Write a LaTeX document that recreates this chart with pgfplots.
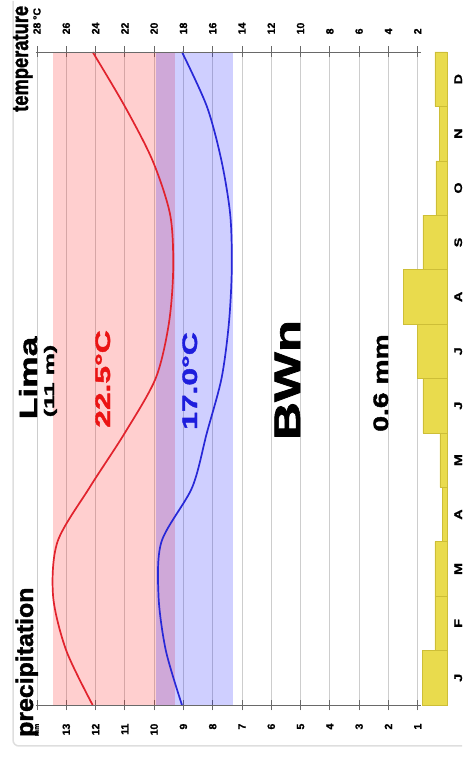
\documentclass[border=0pt]{standalone}
\usepackage{pgfplots}
\pgfplotsset{compat=1.18}
\usepackage{pgfplotstable}
\usepackage{fontspec}
\setmainfont{Liberation Sans}[BoldFont={Liberation Sans Bold}]
\newfontfamily\bfam{Liberation Sans Bold}[FakeBold=1.6]
\newfontfamily\tfam{Liberation Sans Bold}[FakeBold=1.2]
\usepackage{graphicx}

\definecolor{barfill}{RGB}{233,219,77}
\definecolor{baredge}{RGB}{205,190,55}
\definecolor{tmaxc}{RGB}{225,35,45}
\definecolor{tminc}{RGB}{40,40,215}
\definecolor{axgray}{RGB}{105,105,105}
\definecolor{vgrid}{RGB}{205,205,205}
\definecolor{hgrid}{RGB}{160,160,160}
\definecolor{framec}{RGB}{222,222,222}
\definecolor{txtred}{RGB}{235,20,20}
\definecolor{txtblue}{RGB}{30,30,220}

\newcommand\tickfont{\tfam\fontsize{10.5}{12}\selectfont}

% precipitation (mm), interval starts at month position m
\pgfplotstableread{
m p
0 0.85
1 0.41
2 0.41
3 0.17
4 0.24
5 0.82
6 1.02
7 1.50
8 0.82
9 0.38
10 0.27
11 0.41
12 0.41
}\precip

% temperatures (degC) at month positions (0 = Dec, 1 = Jan, ..., 12 = Dec)
\pgfplotstableread{
m tmax tmin
0 24.2 18.1
1 26.0 19.2
2 26.9 19.7
3 26.6 19.5
4 24.4 17.4
5 22.0 16.4
6 19.9 15.4
7 19.0 14.9
8 18.7 14.7
9 18.9 14.8
10 20.1 15.4
11 22.0 16.4
12 24.2 18.1
}\temps

\begin{document}
\begin{tikzpicture}
\useasboundingbox (0,0) rectangle (463bp,758bp);
\draw[framec, line width=1.5bp, rounded corners=6bp] (462bp,12bp) -- (13bp,12bp) -- (13bp,757bp);

% precipitation axis (bottom labels, grid, bars)
\begin{axis}[
  scale only axis, width=410bp, height=653bp,
  at={(37bp,53bp)}, anchor=south west,
  xmin=0, xmax=14, ymin=0, ymax=12, x dir=reverse,
  axis line style={draw=none},
  xtick={1,...,14},
  xticklabels={1,2,3,4,5,6,7,8,9,10,11,12,13,{\fontsize{7}{7}\selectfont mm}},
  xtick pos=left, xticklabel pos=left,
  xticklabel style={rotate=90, anchor=east, inner sep=0pt, font=\tickfont},
  xticklabel shift=13bp,
  ytick=\empty, minor ytick={1,...,11},
  xmajorgrids=true, yminorgrids=true,
  major grid style={vgrid, line width=0.8bp},
  minor grid style={hgrid, line width=0.8bp},
  tick align=center, major tick length=11bp, minor tick length=0pt,
  tick style={axgray, line width=0.8bp},
  clip=false,
]
\addplot[xbar interval, fill=barfill, draw=baredge, line width=0.6bp] table[x=p, y=m] {\precip};
\end{axis}

% temperature axis (top labels, bands, curves)
\begin{axis}[
  scale only axis, width=410bp, height=653bp,
  at={(37bp,53bp)}, anchor=south west,
  xmin=0, xmax=28, ymin=0, ymax=12, x dir=reverse,
  axis line style={draw=none},
  xtick={2,4,...,28},
  xticklabels={2,4,6,8,10,12,14,16,18,20,22,24,26,28 °C},
  xtick pos=right, xticklabel pos=right,
  xticklabel style={rotate=90, anchor=west, inner sep=0pt, font=\tickfont},
  xticklabel shift=12bp,
  ytick=\empty,
  tick align=center, major tick length=11bp,
  tick style={axgray, line width=0.8bp},
  clip=false,
]
\addplot[draw=none, fill=red, fill opacity=0.19] coordinates {(18.6,0) (26.9,0) (26.9,12) (18.6,12)} -- cycle;
\addplot[draw=none, fill=blue, fill opacity=0.19] coordinates {(14.6,0) (19.85,0) (19.85,12) (14.6,12)} -- cycle;
\addplot[tmaxc, line width=1.7bp, smooth] table[x=tmax, y=m] {\temps};
\addplot[tminc, line width=1.7bp, smooth] table[x=tmin, y=m] {\temps};
\draw[axgray, line width=0.9bp] (axis cs:28.1,12) -- (axis cs:1.8,12);
\draw[axgray, line width=0.9bp] (axis cs:28.1,0) -- (axis cs:1.8,0);
\end{axis}

% margin labels
\node[rotate=90, anchor=base west, inner sep=0pt, font=\bfam\fontsize{23}{23}\selectfont] at (28bp,646bp) {\scalebox{0.80}[1]{temperature}};
\node[rotate=90, anchor=base west, inner sep=0pt, font=\bfam\fontsize{24}{24}\selectfont] at (33bp,21bp) {\scalebox{1.04}[1]{precipitation}};

% inner labels
\node[rotate=90, anchor=base, inner sep=0pt, font=\bfam\fontsize{25}{25}\selectfont] at (37bp,380bp) {\scalebox{1.42}[1]{Lima}};
\node[rotate=90, anchor=base, inner sep=0pt, font=\bfam\fontsize{14}{14}\selectfont] at (54bp,377bp) {\scalebox{1.8}[1]{(11 m)}};
\node[rotate=90, anchor=base, inner sep=0pt, text=txtred, font=\bfam\fontsize{21}{21}\selectfont] at (110bp,379bp) {\scalebox{1.52}[1]{22.5°C}};
\node[rotate=90, anchor=base, inner sep=0pt, text=txtblue, font=\bfam\fontsize{21}{21}\selectfont] at (197bp,377bp) {\scalebox{1.52}[1]{17.0°C}};
\node[rotate=90, anchor=base, inner sep=0pt, font=\bfam\fontsize{37}{37}\selectfont] at (300bp,378bp) {\scalebox{1.43}[1]{BWn}};
\node[rotate=90, anchor=base, inner sep=0pt, font=\bfam\fontsize{21}{21}\selectfont] at (388bp,375bp) {\scalebox{1.35}[1]{0.6 mm}};

% month labels
\foreach \m [count=\i] in {J,F,M,A,M,J,J,A,S,O,N,D}{
  \node[rotate=90, anchor=base, inner sep=0pt, font=\tfam\fontsize{11}{11}\selectfont] at (462bp,{(53+(\i-0.5)*54.417)*1bp}) {\scalebox{1.3}[1]{\m}};
}
\end{tikzpicture}
\end{document}
